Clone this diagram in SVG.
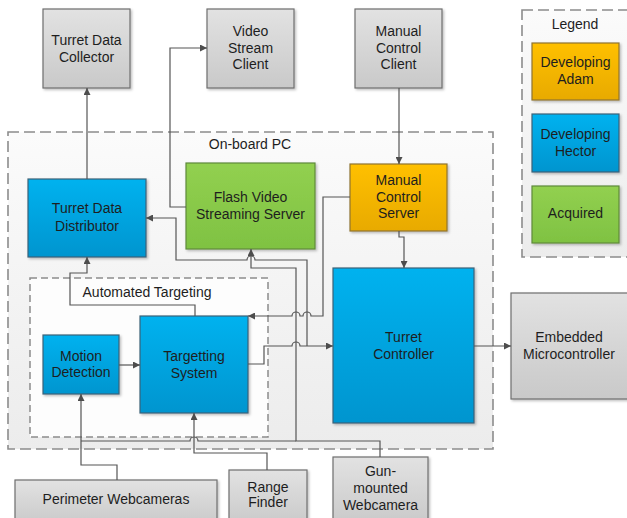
<svg xmlns="http://www.w3.org/2000/svg" width="627" height="518" viewBox="0 0 627 518">
<defs>
<linearGradient id="gGray" x1="0" y1="0" x2="0" y2="1"><stop offset="0" stop-color="#e2e2e2"/><stop offset="1" stop-color="#c9c9c9"/></linearGradient>
<linearGradient id="gBlue" x1="0" y1="0" x2="0" y2="1"><stop offset="0" stop-color="#00b2ef"/><stop offset="1" stop-color="#0095cf"/></linearGradient>
<linearGradient id="gGreen" x1="0" y1="0" x2="0" y2="1"><stop offset="0" stop-color="#92d050"/><stop offset="1" stop-color="#7fc242"/></linearGradient>
<linearGradient id="gOrange" x1="0" y1="0" x2="0" y2="1"><stop offset="0" stop-color="#ffc000"/><stop offset="1" stop-color="#e8aa00"/></linearGradient>
<linearGradient id="gPanel" x1="0" y1="0" x2="0" y2="1"><stop offset="0" stop-color="#fbfbfb"/><stop offset="1" stop-color="#ececec"/></linearGradient>
<filter id="sh" x="-10%" y="-10%" width="130%" height="130%"><feDropShadow dx="1.5" dy="1.5" stdDeviation="1" flood-color="#000" flood-opacity="0.25"/></filter>
<marker id="ar" viewBox="0 0 10 10" refX="10" refY="5" markerWidth="7" markerHeight="7" markerUnits="userSpaceOnUse" orient="auto"><path d="M0,0 L10,5 L0,10 z" fill="#4d4d4d"/></marker>
</defs>
<style>
text{font-family:"Liberation Sans",Arial,sans-serif;font-size:14px;fill:#1e1e1e;text-anchor:middle}
.box{stroke:#6f6f6f;stroke-width:1.2;filter:url(#sh)}
.gray{fill:url(#gGray)}
.blue{fill:url(#gBlue);stroke:#3d6278}
.green{fill:url(#gGreen);stroke:#5f8a3a}
.orange{fill:url(#gOrange);stroke:#8f7430}
.panel{fill:url(#gPanel);stroke:#8c8c8c;stroke-width:1.6;stroke-dasharray:11,5}
.inner{fill:#fdfdfd;stroke:#8c8c8c;stroke-width:1.5;stroke-dasharray:7,4}
.c{fill:none;stroke:#555;stroke-width:1.2}
.a{marker-end:url(#ar)}
</style>

<g id="onboard-pc">
<rect class="panel" x="8" y="132" width="485" height="317"/>
<text x="250" y="149">On-board PC</text>
</g>
<g id="legend">
<rect class="panel" x="522" y="10" width="110" height="247"/>
<text x="575" y="29">Legend</text>
</g>
<g id="automated-targeting">
<rect class="inner" x="30" y="278" width="238" height="159"/>
<text x="147" y="297">Automated Targeting</text>
</g>

<g id="turret-data-collector"><rect class="box gray" x="43" y="9" width="87" height="79"/><text x="86.5" y="45">Turret Data</text><text x="86.5" y="62">Collector</text></g>
<g id="video-stream-client"><rect class="box gray" x="207" y="9" width="87" height="79"/><text x="250.5" y="36">Video</text><text x="250.5" y="53">Stream</text><text x="250.5" y="69">Client</text></g>
<g id="manual-control-client"><rect class="box gray" x="355" y="9" width="87" height="79"/><text x="398.5" y="36">Manual</text><text x="398.5" y="53">Control</text><text x="398.5" y="69">Client</text></g>

<g id="legend-adam"><rect class="box orange" x="532" y="43" width="87" height="57"/><text x="575.5" y="67">Developing</text><text x="575.5" y="84">Adam</text></g>
<g id="legend-hector"><rect class="box blue" x="532" y="114" width="87" height="58"/><text x="575.5" y="139">Developing</text><text x="575.5" y="156">Hector</text></g>
<g id="legend-acquired"><rect class="box green" x="532" y="186" width="87" height="57"/><text x="575.5" y="218">Acquired</text></g>

<g id="turret-data-distributor"><rect class="box blue" x="28" y="179" width="118" height="78"/><text x="87" y="213">Turret Data</text><text x="87" y="231">Distributor</text></g>
<g id="flash-video-streaming-server"><rect class="box green" x="186" y="163" width="129" height="86"/><text x="250.5" y="202">Flash Video</text><text x="250.5" y="219">Streaming Server</text></g>
<g id="manual-control-server"><rect class="box orange" x="350" y="164" width="97" height="67"/><text x="398.5" y="185">Manual</text><text x="398.5" y="202">Control</text><text x="398.5" y="218">Server</text></g>
<g id="motion-detection"><rect class="box blue" x="43" y="335" width="76" height="59"/><text x="81" y="361">Motion</text><text x="81" y="377">Detection</text></g>
<g id="targetting-system"><rect class="box blue" x="140" y="316" width="108" height="97"/><text x="194" y="361">Targetting</text><text x="194" y="378">System</text></g>
<g id="turret-controller"><rect class="box blue" x="333" y="268" width="141" height="155"/><text x="403.5" y="342">Turret</text><text x="403.5" y="359">Controller</text></g>
<g id="embedded-microcontroller"><rect class="box gray" x="511" y="293" width="118" height="106"/><text x="569" y="342">Embedded</text><text x="569" y="359">Microcontroller</text></g>
<g id="perimeter-webcameras"><rect class="box gray" x="15" y="480" width="202" height="45"/><text x="116" y="504">Perimeter Webcameras</text></g>
<g id="range-finder"><rect class="box gray" x="229" y="470" width="78" height="55"/><text x="268" y="492">Range</text><text x="268" y="507">Finder</text></g>
<g id="gun-mounted-webcamera"><rect class="box gray" x="333" y="457" width="95" height="68"/><text x="380.5" y="476">Gun-</text><text x="380.5" y="493">mounted</text><text x="380.5" y="510">Webcamera</text></g>

<g id="connectors">
<path class="c a" d="M87 179 L87 88"/>
<path class="c a" d="M186 207 L170 207 L170 48 L207 48"/>
<path class="c a" d="M399 88 L399 164"/>
<path class="c a" d="M399 231 L399 237 L404 237 L404 268"/>
<path class="c a" d="M350 197 L323 197 L323 316 L311 316 A4 4 0 0 0 303 316 L300 316 A4 4 0 0 0 292 316 L248 316"/>
<path class="c a" d="M307 346 L307 260 L255 260 A4 4 0 0 0 247 260 L176 260 L176 218 L146 218"/>
<path class="c a" d="M248 364 L264 364 L264 346 L292 346 A4 4 0 0 1 300 346 L333 346"/>
<path class="c a" d="M380 457 L380 441 L296 441 L296 268 L251 268 L251 249"/>
<path class="c" d="M296 441 L198 441 A4 4 0 0 0 190 441 L81 441"/>
<path class="c a" d="M267 470 L267 453 L194 453 L194 413"/>
<path class="c a" d="M117 480 L117 465 L81 465 L81 394"/>
<path class="c a" d="M119 365 L140 365"/>
<path class="c a" d="M195 316 L195 305 L70 305 L70 273 L87 273 L87 257"/>
<path class="c a" d="M474 346 L511 346"/>
</g>
</svg>
